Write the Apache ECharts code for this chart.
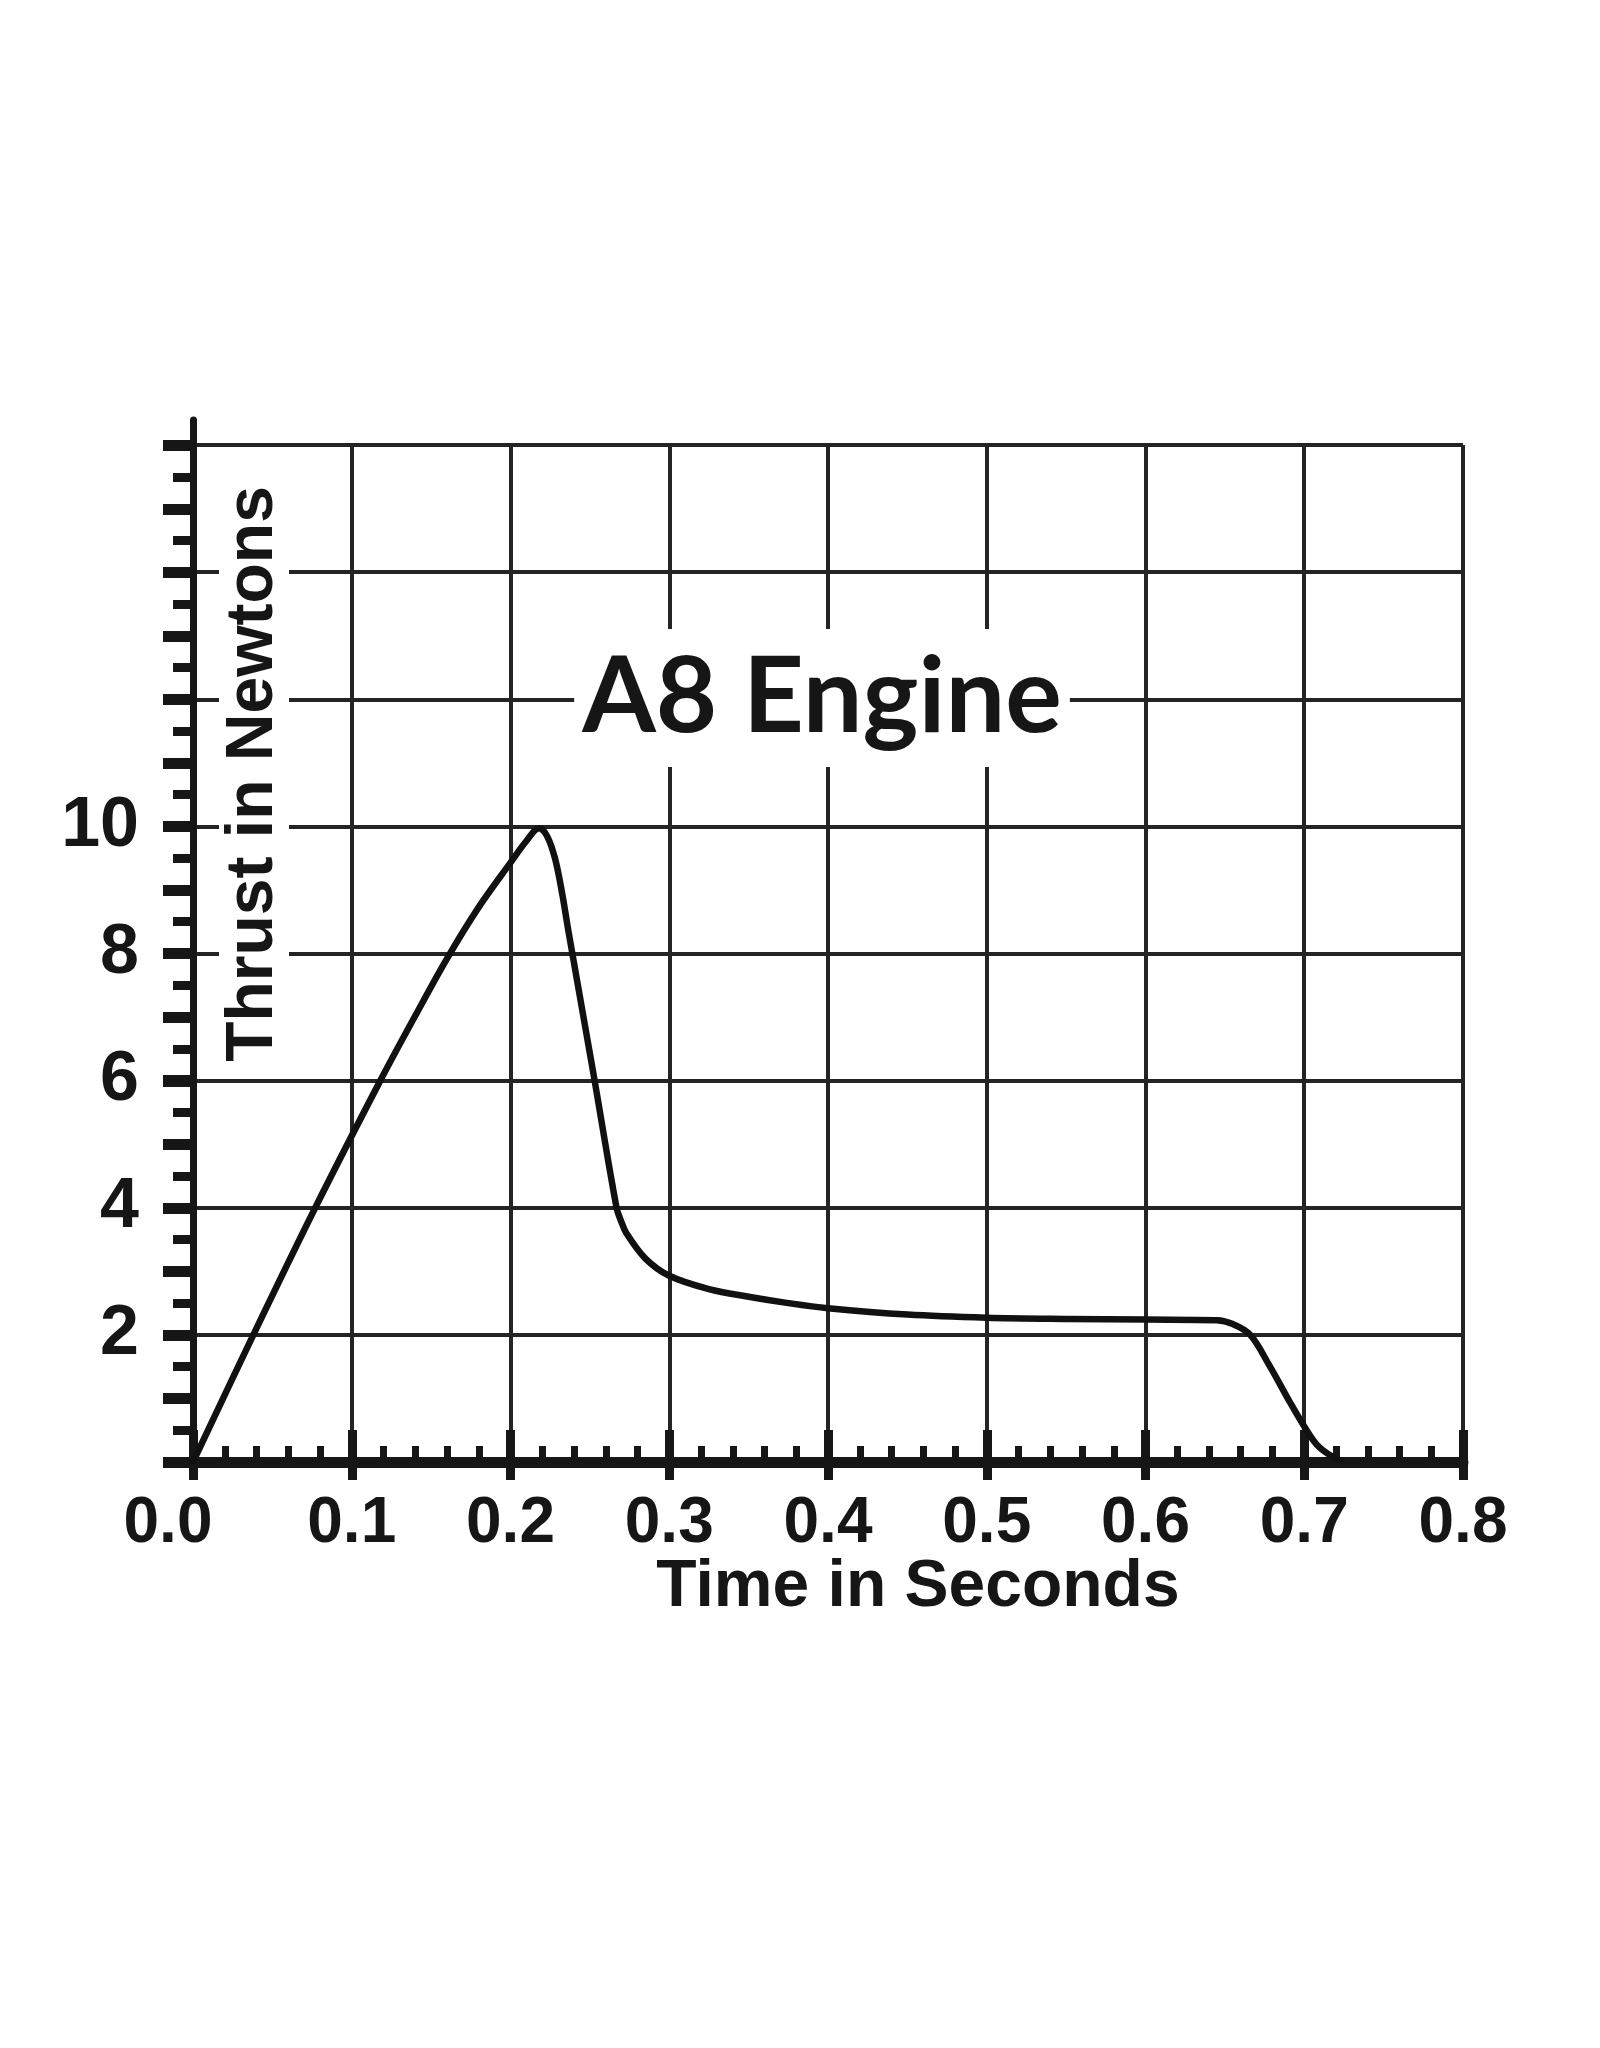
<!DOCTYPE html>
<html>
<head>
<meta charset="utf-8">
<script src="https://cdn.jsdelivr.net/npm/echarts@6/dist/echarts.min.js"></script>
<style>
html,body{margin:0;padding:0;background:#fff;}
#c{width:1600px;height:2048px;}
</style>
</head>
<body>
<div id="c"></div>
<script>
// ---- data ----
const timeSec = [0, 0.038, 0.077, 0.118, 0.14, 0.16, 0.18, 0.2, 0.21, 0.218, 0.223, 0.228, 0.2325, 0.2365, 0.2523, 0.2668, 0.2695, 0.273, 0.285, 0.3, 0.325, 0.35, 0.375, 0.4, 0.45, 0.5, 0.55, 0.6, 0.645, 0.655, 0.666, 0.678, 0.691, 0.7, 0.708, 0.716, 0.722];
const thrustN = [0, 2, 4, 6, 7.02, 7.92, 8.73, 9.43, 9.77, 9.97, 9.85, 9.5, 8.95, 8.35, 6.1, 4.0, 3.8, 3.6, 3.2, 2.93, 2.72, 2.6, 2.5, 2.42, 2.32, 2.27, 2.25, 2.24, 2.23, 2.17, 2.0, 1.52, 0.94, 0.56, 0.27, 0.11, 0.03];
const xTickLabels = ['0.0', '0.1', '0.2', '0.3', '0.4', '0.5', '0.6', '0.7', '0.8'];
const yTickLabels = [2, 4, 6, 8, 10];
const yUnitTicks = [0, 1, 2, 3, 4, 5, 6, 7, 8, 9, 10, 11, 12, 13, 14, 15, 16];
const chartTitle = 'A8 Engine';
const xName = 'Time in Seconds';
const yName = 'Thrust in Newtons';

const ink = '#161616';
const gridInk = '#242424';
const labelFont = '"Liberation Sans", Arial, sans-serif';
const chart = echarts.init(document.getElementById('c'), null, {renderer: 'canvas'});

const option = {
  animation: false,
  backgroundColor: '#ffffff',
  grid: [
    {left: 193, right: 137, top: 445, bottom: 586},
    {left: 193, right: 137, top: 420, bottom: 586}
  ],
  xAxis: [
    {
      type: 'value', gridIndex: 0, min: 0, max: 0.8, interval: 0.1,
      axisLine: {show: true, onZero: false, lineStyle: {color: ink, width: 11}},
      axisTick: {show: true, inside: true, length: 32, lineStyle: {color: ink, width: 9}},
      minorTick: {show: true, splitNumber: 5, length: 16, lineStyle: {color: ink, width: 7}},
      splitLine: {show: true, lineStyle: {color: gridInk, width: 4}},
      axisLabel: {
        margin: 30,
        formatter: function (v) {
          const k = Math.round(v * 10);
          return k === 0 ? '{m|' + xTickLabels[k] + '}' : xTickLabels[k];
        },
        fontFamily: labelFont, fontWeight: 'bold', fontSize: 64, color: ink,
        rich: {m: {fontFamily: labelFont, fontWeight: 'bold', fontSize: 64, color: ink, padding: [0, 50, 0, 0]}}
      }
    },
    {
      type: 'value', gridIndex: 1, min: 0, max: 0.8, interval: 0.1,
      axisLine: {show: false, onZero: false},
      axisTick: {show: true, inside: false, length: 18, lineStyle: {color: ink, width: 9}},
      axisLabel: {show: false},
      splitLine: {show: false}
    }
  ],
  yAxis: [
    {
      type: 'value', gridIndex: 0, min: 0, max: 16, interval: 2,
      axisLine: {show: true, onZero: false, lineStyle: {color: ink, width: 7}},
      axisTick: {show: true, inside: false, length: 30, lineStyle: {color: ink, width: 11}},
      minorTick: {show: true, splitNumber: 4, length: 20, lineStyle: {color: ink, width: 9}},
      splitLine: {show: true, lineStyle: {color: gridInk, width: 4}},
      axisLabel: {
        customValues: yTickLabels,
        margin: 54,
        fontFamily: labelFont, fontWeight: 'bold', fontSize: 70, color: ink
      }
    },
    {
      type: 'value', gridIndex: 1, min: 0, max: 16.4, interval: 1,
      axisLine: {show: true, onZero: false, lineStyle: {color: ink, width: 7}},
      axisTick: {show: true, inside: false, length: 30, customValues: yUnitTicks, lineStyle: {color: ink, width: 11}},
      axisLabel: {show: false},
      splitLine: {show: false}
    }
  ],
  series: [
    {
      type: 'line',
      xAxisIndex: 0, yAxisIndex: 0,
      data: timeSec.map(function (t, i) { return [t, thrustN[i]]; }),
      symbol: 'none',
      smooth: 0.35,
      lineStyle: {color: '#111111', width: 6.5, cap: 'round', join: 'round'},
      z: 5
    }
  ],
  graphic: [
    {
      type: 'text', x: 822, y: 698, z: 100,
      style: {
        text: chartTitle, fontFamily: 'Lato, "Open Sans", sans-serif', fontWeight: 'bold', fontSize: 106,
        fill: ink, align: 'center', verticalAlign: 'middle',
        backgroundColor: '#ffffff', padding: [16, 8, 16, 8]
      }
    },
    {
      type: 'text', x: 254, y: 774, rotation: Math.PI / 2, z: 100,
      style: {
        text: yName, fontFamily: labelFont, fontWeight: 'bold', fontSize: 66,
        fill: ink, align: 'center', verticalAlign: 'middle',
        backgroundColor: '#ffffff', padding: [2, 4, 2, 4]
      }
    },
    {
      type: 'text', x: 918, y: 1588, z: 100,
      style: {
        text: xName, fontFamily: labelFont, fontWeight: 'bold', fontSize: 66,
        fill: ink, align: 'center', verticalAlign: 'middle'
      }
    }
  ]
};
chart.setOption(option);
</script>
</body>
</html>
